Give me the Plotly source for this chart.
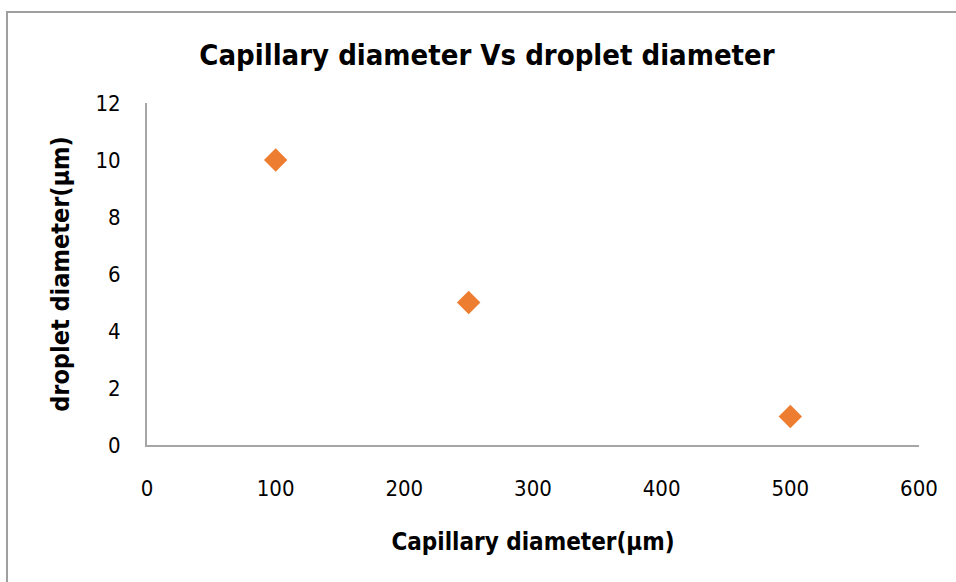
import plotly.graph_objects as go

capillary_um = [100, 250, 500]
droplet_um = [10, 5, 1]
x_ticks = [0, 100, 200, 300, 400, 500, 600]
y_ticks = [0, 2, 4, 6, 8, 10, 12]

FONT = "DejaVu Sans Condensed, DejaVu Sans"
L, R, T, B = 147, 37, 103, 137
W, H = 956, 582
pw, ph = W - L - R, H - T - B

fig = go.Figure(go.Scatter(
    x=capillary_um, y=droplet_um, mode="markers",
    marker=dict(symbol="diamond", size=18, color="#ED7D31"),
    showlegend=False,
))

def px(xp):
    return (xp - L) / pw

def py(yp):
    return (H - B - yp) / ph

fig.update_layout(
    width=W, height=H,
    margin=dict(l=L, r=R, t=T, b=B),
    paper_bgcolor="white", plot_bgcolor="white",
    font=dict(family=FONT, color="#000000", size=22),
    title=dict(text="<b>Capillary diameter Vs droplet diameter</b>",
               x=px(487), xref="paper", xanchor="center",
               y=1 - 55 / H, yanchor="middle",
               font=dict(size=29, family=FONT)),
    xaxis=dict(range=[0, 600], tickvals=x_ticks, showgrid=False, zeroline=False,
               showline=True, linecolor="#A6A6A6", linewidth=2,
               ticks="", ticklabelstandoff=23,
               title=dict(text="<b>Capillary diameter(µm)</b>", font=dict(size=24), standoff=33)),
    yaxis=dict(range=[0, 12], tickvals=y_ticks, showgrid=False, zeroline=False,
               showline=True, linecolor="#A6A6A6", linewidth=2,
               ticks="", ticklabelstandoff=20,
               title=dict(text="<b>droplet diameter(µm)</b>", font=dict(size=25), standoff=19)),
    shapes=[dict(type="rect", xref="paper", yref="paper",
                 x0=px(7), x1=px(1000), y0=py(12), y1=py(620),
                 line=dict(color="#A0A0A0", width=2), fillcolor="rgba(0,0,0,0)",
                 layer="below")],
)

fig.write_html("out.html", config={"displayModeBar": False},
               post_script="document.body.style.margin='0';document.body.style.overflow='hidden';")
